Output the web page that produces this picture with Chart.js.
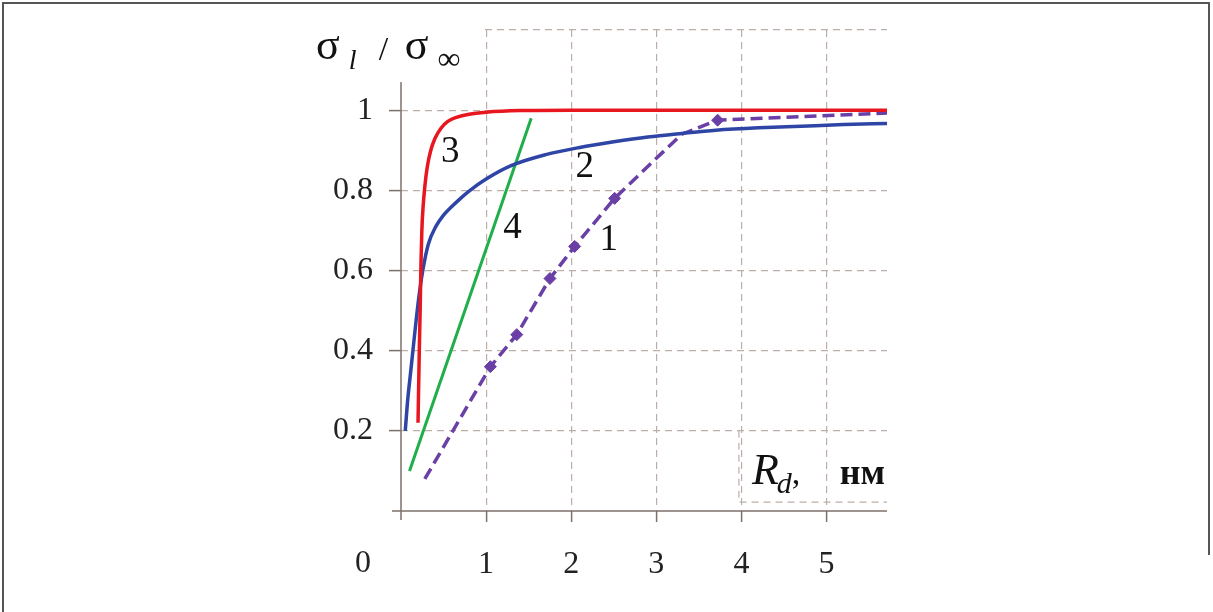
<!DOCTYPE html>
<html>
<head>
<meta charset="utf-8">
<script src="https://cdn.jsdelivr.net/npm/chart.js@4/dist/chart.umd.min.js"></script>
<title>sigma_l / sigma_inf vs R_d</title>
<style>
  body { margin: 0; background: #fff; }
  #wrap { width: 1213px; height: 612px; }
</style>
</head>
<body>
<div id="wrap"><canvas id="chart" width="1213" height="612"></canvas></div>
<script>
// curve 1 (dashed, purple) - line vertices and the diamond markers
const rd1 = [0.28, 1.05, 1.36, 1.75, 2.04, 2.51, 3.0, 3.3, 3.72, 5.71];
const s1 = [0.08, 0.36, 0.44, 0.58, 0.66, 0.78, 0.88, 0.94, 0.975, 0.993];
const rd1Marks = [1.05, 1.36, 1.75, 2.04, 2.51, 3.72];
const s1Marks = [0.36, 0.44, 0.58, 0.66, 0.78, 0.975];

// curve 2 (blue)
const rd2 = [0.05, 0.08, 0.11, 0.14, 0.18, 0.22, 0.26, 0.32, 0.41, 0.5, 0.6, 0.7, 0.8, 1.0, 1.3, 1.7, 2.1, 2.5, 2.9, 3.3, 3.7, 4.2, 4.7, 5.2, 5.71];
const s2 = [0.2, 0.28, 0.34, 0.4, 0.48, 0.55, 0.605, 0.665, 0.71, 0.738, 0.76, 0.78, 0.798, 0.828, 0.862, 0.889, 0.907, 0.921, 0.933, 0.942, 0.95, 0.956, 0.96, 0.964, 0.967];

// curve 3 (red)
const rd3 = [0.2, 0.215, 0.225, 0.235, 0.245, 0.26, 0.28, 0.31, 0.35, 0.4, 0.47, 0.55, 0.65, 0.8, 1.0, 1.4, 2.0, 5.71];
const s3 = [0.22, 0.4, 0.5, 0.62, 0.7, 0.76, 0.81, 0.86, 0.9, 0.93, 0.955, 0.972, 0.982, 0.99, 0.995, 0.999, 1.0, 1.0];

// curve 4 (green, straight)
const rd4 = [0.1, 1.53];
const s4 = [0.1, 0.98];

// tick labels
const xTickLabels = ['0', '1', '2', '3', '4', '5'];
const yTickLabels = ['0.2', '0.4', '0.6', '0.8', '1'];

// curve numbers, placed in data units
const curveNames = ['1', '2', '3', '4'];
const curveNameX = [2.44, 2.16, 0.58, 1.31];
const curveNameY = [0.675, 0.857, 0.895, 0.705];

const SERIF = '"Liberation Serif", "Times New Roman", serif';
const GRID = '#bcafa9';
const AXIS = '#7d716b';

function pts(xs, ys) { return xs.map((v, i) => ({ x: v, y: ys[i] })); }

function yLabelIndex(v) {
  const i = Math.round(v / 0.2) - 1;
  return i >= 0 && i < yTickLabels.length ? i : -1;
}

const decor = {
  id: 'decor',
  beforeDraw(chart) {
    const ctx = chart.ctx;
    ctx.save();
    ctx.fillStyle = '#fff';
    ctx.fillRect(0, 0, chart.width, chart.height);
    ctx.restore();
  },
  afterDraw(chart) {
    const { ctx, chartArea: a, scales: { x, y } } = chart;
    const y0 = y.getPixelForValue(0);
    ctx.save();

    // axis lines
    ctx.strokeStyle = AXIS;
    ctx.lineWidth = 1.5;
    ctx.beginPath();
    ctx.moveTo(a.left - 9, y0);
    ctx.lineTo(a.right, y0);
    ctx.moveTo(a.left, a.top);
    ctx.lineTo(a.left, y0 + 9);
    ctx.stroke();

    // the "0" at the origin corner
    ctx.fillStyle = '#222';
    ctx.font = '32px ' + SERIF;
    ctx.textAlign = 'center';
    ctx.textBaseline = 'middle';
    ctx.fillText(xTickLabels[0], a.left - 38, y0 + 53);

    // curve numbers
    ctx.font = '37px ' + SERIF;
    ctx.fillStyle = '#111';
    curveNames.forEach((t, i) => {
      ctx.fillText(t, x.getPixelForValue(curveNameX[i]), y.getPixelForValue(curveNameY[i]));
    });

    // R_d box (dashed) and text
    const bl = x.getPixelForValue(3.97);
    const bt = y.getPixelForValue(0.2);
    const bb = y.getPixelForValue(0.022);
    ctx.strokeStyle = GRID;
    ctx.lineWidth = 1.2;
    ctx.setLineDash([7, 5]);
    ctx.beginPath();
    ctx.moveTo(bl, bt);
    ctx.lineTo(bl, bb);
    ctx.lineTo(a.right, bb);
    ctx.stroke();
    ctx.setLineDash([]);

    ctx.textBaseline = 'alphabetic';
    ctx.fillStyle = '#111';
    const base = y.getPixelForValue(0.068);
    let tx = bl + 13;
    ctx.textAlign = 'left';
    ctx.font = 'italic 44px ' + SERIF;
    ctx.fillText('R', tx, base);
    tx += ctx.measureText('R').width - 2;
    ctx.font = 'italic 30px ' + SERIF;
    ctx.fillText('d', tx, base + 9);
    tx += ctx.measureText('d').width;
    ctx.font = '34px ' + SERIF;
    ctx.fillText(',', tx, base);
    ctx.textAlign = 'right';
    ctx.font = 'bold 36px ' + SERIF;
    ctx.fillText('нм', a.right - 2, base);

    // y axis title with white backing, as in the original
    const tl = a.left - 101;
    ctx.fillStyle = '#fff';
    ctx.fillRect(tl, 6, 180, y.getPixelForValue(1.07) - 6);
    ctx.fillStyle = '#111';
    ctx.textAlign = 'left';
    const tb = 59;
    let ux = tl + 16;
    ctx.font = '44px ' + SERIF;
    ctx.fillText('σ', ux, tb);
    ux += ctx.measureText('σ').width + 9;
    ctx.font = 'italic 28px ' + SERIF;
    ctx.fillText('l', ux, tb + 10);
    ux += 30;
    ctx.font = '34px ' + SERIF;
    ctx.fillText('/', ux, tb + 1);
    ux += 26;
    ctx.font = '44px ' + SERIF;
    ctx.fillText('σ', ux, tb);
    ux += ctx.measureText('σ').width + 9;
    ctx.font = '32px ' + SERIF;
    ctx.fillText('∞', ux, tb + 10);

    // page frame
    ctx.strokeStyle = '#555';
    ctx.lineWidth = 2;
    ctx.beginPath();
    ctx.moveTo(3, chart.height);
    ctx.lineTo(3, 3);
    ctx.lineTo(chart.width - 4, 3);
    ctx.lineTo(chart.width - 4, 555);
    ctx.stroke();

    ctx.restore();
  }
};

const lineBase = { showLine: true, pointRadius: 0, borderWidth: 3.5, fill: false };

new Chart(document.getElementById('chart'), {
  type: 'scatter',
  data: {
    datasets: [
      Object.assign({}, lineBase, { label: '3', data: pts(rd3, s3), borderColor: '#e8161e', cubicInterpolationMode: 'monotone' }),
      Object.assign({}, lineBase, { label: '2', data: pts(rd2, s2), borderColor: '#2f45a6', cubicInterpolationMode: 'monotone' }),
      Object.assign({}, lineBase, { label: '4', data: pts(rd4, s4), borderColor: '#1fae4a', borderWidth: 3 }),
      Object.assign({}, lineBase, { label: '1', data: pts(rd1, s1), borderColor: '#6a3fa6', borderDash: [12, 6] }),
      { label: '1 markers', data: pts(rd1Marks, s1Marks), showLine: false, pointStyle: 'rectRot', pointRadius: 6,
        backgroundColor: '#6a3fa6', borderColor: '#6a3fa6' }
    ]
  },
  options: {
    responsive: false,
    animation: false,
    layout: { padding: { left: 0, top: 30, right: 326, bottom: 0 } },
    plugins: { legend: { display: false }, tooltip: { enabled: false } },
    scales: {
      x: {
        type: 'linear', min: 0, max: 5.71,
        afterFit: s => { s.height = 101; },
        ticks: {
          stepSize: 1, includeBounds: false, autoSkip: false, maxRotation: 0, padding: 23,
          color: '#222', font: { family: SERIF, size: 32 },
          callback: v => (v === 0 ? '' : xTickLabels[v])
        },
        grid: {
          color: c => (c.tick && c.tick.value === 0 ? 'rgba(0,0,0,0)' : GRID),
          lineWidth: 1.2, tickLength: 11, tickWidth: 1.5,
          tickColor: c => (c.tick && c.tick.value === 0 ? 'rgba(0,0,0,0)' : AXIS)
        },
        border: { display: false, dash: [7, 5] }
      },
      y: {
        type: 'linear', min: 0, max: 1.2,
        afterFit: s => { s.width = 401; },
        ticks: {
          stepSize: 0.2, autoSkip: false, padding: 16,
          color: '#222',
          font: c => ({ family: SERIF, size: c.tick && yLabelIndex(c.tick.value) < 0 ? 2 : 32 }),
          callback: v => {
            const i = yLabelIndex(v);
            return i >= 0 ? yTickLabels[i] : '';
          }
        },
        grid: {
          color: c => (c.tick && c.tick.value === 0 ? 'rgba(0,0,0,0)' : GRID),
          lineWidth: 1.2, tickLength: 12, tickWidth: 1.5,
          tickColor: c => (c.tick && c.tick.value === 0 ? 'rgba(0,0,0,0)' : AXIS)
        },
        border: { display: false, dash: [7, 5] }
      }
    }
  },
  plugins: [decor]
});
</script>
</body>
</html>
